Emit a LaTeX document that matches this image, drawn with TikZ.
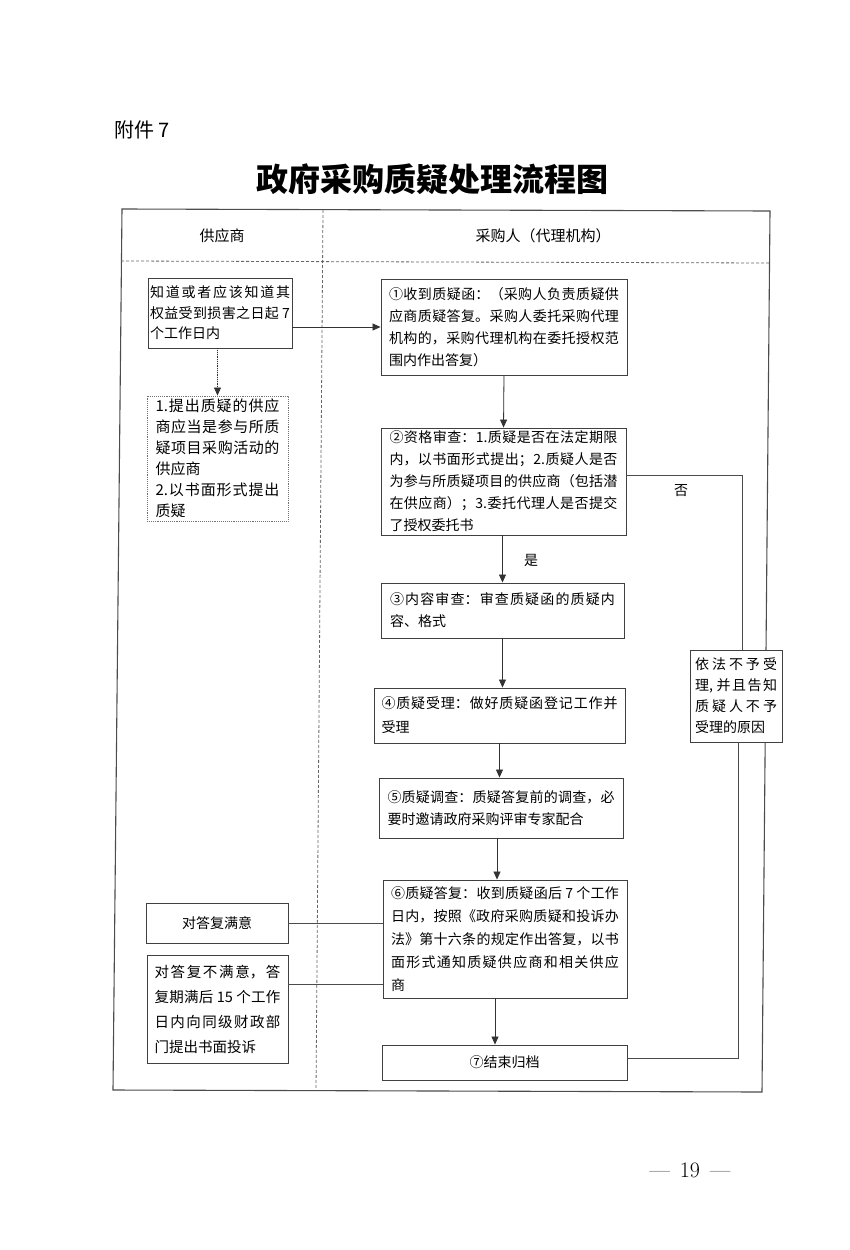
\documentclass[tikz,border=0pt]{standalone}
\usepackage{fontspec}
\newfontfamily\cjk{Noto Sans CJK SC}
\usetikzlibrary{arrows.meta}
\XeTeXlinebreaklocale "zh"
\XeTeXlinebreakskip = 0pt plus 4pt
\begin{document}
\begin{tikzpicture}[x=1pt,y=-1pt,
  box/.style={draw=black!75, line width=0.9pt, fill=white, inner sep=0pt, align=justify,
    font=\cjk\fontsize{14}{22}\selectfont},
  cbox/.style={draw=black!75, line width=0.9pt, fill=white, inner sep=0pt,
    font=\cjk\fontsize{14}{22}\selectfont},
  dbox/.style={box, draw=black!55, densely dotted},
  arr/.style={-{Triangle[length=8pt,width=7pt]}, line width=0.8pt, draw=black!80, fill=black!80},
  conn/.style={line width=0.8pt, draw=black!70},
  frame/.style={line width=1.1pt, draw=black!70},
  divd/.style={line width=0.8pt, draw=black!60, dash pattern=on 3pt off 2pt},
  lbl/.style={font=\cjk\fontsize{14}{16}\selectfont, inner sep=0pt}]
\useasboundingbox (0,0) rectangle (850,1250);

% headings
\node[font=\cjk\fontsize{20}{24}\selectfont, anchor=west, inner sep=0pt] (att) at (114,130) {附件~7};
\node[font=\cjk\bfseries\fontsize{32}{38}\selectfont, inner sep=0pt] (title) at (432,179) {政府采购质疑处理流程图};

% frame and lanes
\draw[frame] (122,209) -- (770,211) -- (762,1092) -- (113,1090) -- cycle;
\draw[divd] (121,261) -- (769,263);
\draw[divd] (323,210) -- (316,1091);
\node[lbl, font=\cjk\fontsize{15}{17}\selectfont] (h1) at (222,236) {供应商};
\node[lbl, font=\cjk\fontsize{15}{17}\selectfont] (h2) at (543,236) {采购人（代理机构）};

% supplier lane
\node[box, font=\cjk\fontsize{14}{20.5}\selectfont, minimum width=144pt, minimum height=70pt, text width=140pt] (A) at (220,313)
  {知道或者应该知道其\linebreak 权益受到损害之日起~7\linebreak 个工作日内};
\node[dbox, font=\cjk\fontsize{15}{21}\selectfont, minimum width=141pt, minimum height=125pt, text width=124pt] (B) at (217.5,458.5)
  {1.提出质疑的供应\linebreak 商应当是参与所质\linebreak 疑项目采购活动的\linebreak 供应商\\2.以书面形式提出\linebreak 质疑};
\node[cbox, minimum width=142pt, minimum height=40pt] (S) at (217,923)
  {对答复满意};
\node[box, font=\cjk\fontsize{14.5}{25}\selectfont, minimum width=141pt, minimum height=108pt, text width=126pt] (U) at (217.5,1009)
  {对答复不满意，答\linebreak 复期满后~15~个工作\linebreak 日内向同级财政部\linebreak 门提出书面投诉};

% purchaser lane
\node[box, minimum width=246pt, minimum height=96pt, text width=230pt] (b1) at (504,327)
  {①收到质疑函：（采购人负责质疑供\linebreak 应商质疑答复。采购人委托采购代理\linebreak 机构的，采购代理机构在委托授权范\linebreak 围内作出答复）};
\node[box, minimum width=245pt, minimum height=107pt, text width=228pt] (b2) at (503.5,481.5)
  {②资格审查：1.质疑是否在法定期限\linebreak 内，以书面形式提出；2.质疑人是否\linebreak 为参与所质疑项目的供应商（包括潜\linebreak 在供应商）；3.委托代理人是否提交\linebreak 了授权委托书};
\node[box, minimum width=243pt, minimum height=55pt, text width=225pt] (b3) at (502.5,610.5)
  {③内容审查：审查质疑函的质疑内\linebreak 容、格式};
\node[box, font=\cjk\fontsize{14}{24}\selectfont, minimum width=251pt, minimum height=55pt, text width=236pt] (b4) at (499.5,715.5)
  {④质疑受理：做好质疑函登记工作并\linebreak 受理};
\node[box, minimum width=244pt, minimum height=60pt, text width=227pt] (b5) at (501,808)
  {⑤质疑调查：质疑答复前的调查，必\linebreak 要时邀请政府采购评审专家配合};
\node[box, font=\cjk\fontsize{14}{23}\selectfont, minimum width=244pt, minimum height=118pt, text width=228pt] (b6) at (505,939)
  {⑥质疑答复：收到质疑函后~7~个工作\linebreak 日内，按照《政府采购质疑和投诉办\linebreak 法》第十六条的规定作出答复，以书\linebreak 面形式通知质疑供应商和相关供应\linebreak 商};
\node[cbox, minimum width=245pt, minimum height=35pt] (b7) at (504.5,1062.5)
  {⑦结束归档};
\node[box, font=\cjk\fontsize{14}{21}\selectfont, minimum width=92pt, minimum height=92pt, text width=82pt] (N) at (736,696)
  {依法不予受\linebreak 理,~并且告知\linebreak 质疑人不予\linebreak 受理的原因};

% connectors
\draw[arr] (b1.west -| A.east) -- (b1.west);
\draw[arr, densely dotted] (A.south -| B.north) -- (B.north);
\draw[arr] (b1.south) -- (b2.north);
\draw[arr] ([xshift=-1pt]b2.south) -- ([xshift=-1pt]b2.south |- b3.north);
\draw[arr] (b3.south) -- (b3.south |- b4.north);
\draw[arr] (b4.south) -- (b4.south |- b5.north);
\draw[arr] ([xshift=-4pt]b5.south) -- ([xshift=-4pt]b5.south |- b6.north);
\draw[arr] ([xshift=-10pt]b6.south) -- ([xshift=-10pt]b6.south |- b7.north);
\draw[conn] ([yshift=6.5pt]b2.east) -| ([xshift=6pt]N.north);
\draw[conn] ([yshift=4pt]b7.east) -| ([xshift=2pt]N.south);
\draw[conn] (S.east) -- (S.east -| b6.west);
\coordinate (uy) at (0,984);
\draw[conn] (uy -| U.east) -- (uy -| b6.west);
\node[lbl] (yes) at (531,560) {是};
\node[lbl] (no) at (681,491) {否};

% page number
\node[font=\fontsize{22}{24}\selectfont, inner sep=0pt] (pg) at (690,1170) {---\hspace{10pt}19\hspace{10pt}---};
\end{tikzpicture}
\end{document}
